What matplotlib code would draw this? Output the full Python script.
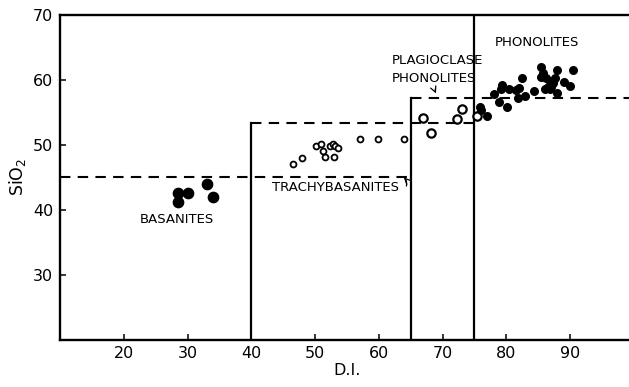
import matplotlib.pyplot as plt

# D.I. vs SiO2 for the volcanic series
basanite_di = [28.5, 30.0, 28.4, 33.1, 34.0]
basanite_si = [42.6, 42.5, 41.1, 44.0, 42.0]

trachy_di = [46.6, 48.0, 50.1, 50.9, 51.3, 51.6, 52.3, 52.8, 53.1, 53.6, 53.0, 57.0, 59.9, 63.9]
trachy_si = [47.0, 48.0, 49.8, 50.1, 49.0, 48.1, 49.7, 50.1, 49.8, 49.4, 48.1, 50.8, 50.8, 50.9]

plag_di = [66.9, 68.2, 72.2, 73.0, 75.4]
plag_si = [54.1, 51.8, 53.9, 55.4, 54.4]

phono_di = [75.9, 76.0, 77.0, 78.0, 78.9, 80.1, 79.4, 79.2, 80.4, 81.5, 81.9, 82.0,
            82.4, 82.9, 84.4, 85.4, 85.4, 85.7, 86.2, 86.9, 86.5, 87.3, 87.6, 87.9,
            86.8, 87.9, 89.0, 90.0, 90.5, 86.1, 87.1]
phono_si = [55.7, 55.3, 54.4, 57.8, 56.6, 55.7, 59.2, 58.5, 58.5, 58.4, 57.1, 58.7,
            60.2, 57.5, 58.2, 62.0, 60.4, 61.0, 60.3, 59.7, 58.9, 59.4, 60.3, 61.5,
            58.6, 57.9, 59.6, 59.0, 61.5, 58.6, 58.9]

# field boundaries
bound_di = [40, 65, 75]
bound_top = [53.3, 57.2, 70]
si_basanite = 45

plt.rcParams['font.family'] = 'DejaVu Sans'

fig = plt.figure(figsize=(6.29, 3.87), dpi=100)
ax = fig.add_axes([0.0959, 0.1227, 0.9115, 0.8398])
ax.set_xlim(10, 100)
ax.set_ylim(20, 70)

dash = dict(color='black', lw=1.5, linestyle=(0, (5, 3.5)))
solid = dict(color='black', lw=1.6)

# vertical field limits
for x, top in zip(bound_di, bound_top):
    ax.plot([x, x], [20, top], **solid)

# dashed SiO2 limits
ax.plot([10, 65], [si_basanite, si_basanite], **dash)
ax.plot([40, 75], [bound_top[0], bound_top[0]], **dash)
ax.plot([65, 100], [bound_top[1], bound_top[1]], **dash)

ax.scatter(basanite_di, basanite_si, s=55, color='black', zorder=3)
ax.scatter(trachy_di, trachy_si, s=18, facecolor='white', edgecolor='black', lw=1.3, zorder=3)
ax.scatter(plag_di, plag_si, s=36, facecolor='white', edgecolor='black', lw=1.6, zorder=3)
ax.scatter(phono_di, phono_si, s=30, color='black', zorder=3)

lab = dict(fontsize=9.5, color='black')
ax.text(28.3, 38.4, 'BASANITES', ha='center', va='center', **lab)
ax.text(53.2, 43.4, 'TRACHYBASANITES', ha='center', va='center', **lab)
ax.text(62.1, 62.9, 'PLAGIOCLASE', ha='left', va='center', **lab)
ax.text(62.1, 60.1, 'PHONOLITES', ha='left', va='center', **lab)
ax.text(78.2, 65.7, 'PHONOLITES', ha='left', va='center', **lab)

arrow = dict(arrowstyle='->', color='black', lw=0.9, connectionstyle='arc3,rad=0.4')
ax.annotate('', xy=(63.6, 45.2), xytext=(64.2, 43.2), arrowprops=arrow)
ax.annotate('', xy=(69.2, 57.5), xytext=(69.0, 59.0),
            arrowprops=dict(arrowstyle='->', color='black', lw=0.9, connectionstyle='arc3,rad=0.3'))

for side in ['left', 'bottom', 'top']:
    ax.spines[side].set_linewidth(1.7)
ax.spines['right'].set_visible(False)

ax.set_xticks([20, 30, 40, 50, 60, 70, 80, 90])
ax.set_yticks([30, 40, 50, 60, 70])
ax.tick_params(direction='in', length=4, width=1.1, labelsize=11.5, pad=5)
ax.set_xlabel('D.I.', fontsize=11.5, labelpad=1)
ax.set_ylabel('SiO$_2$', fontsize=12.5, labelpad=4)

fig.savefig('out.png', dpi=100)
